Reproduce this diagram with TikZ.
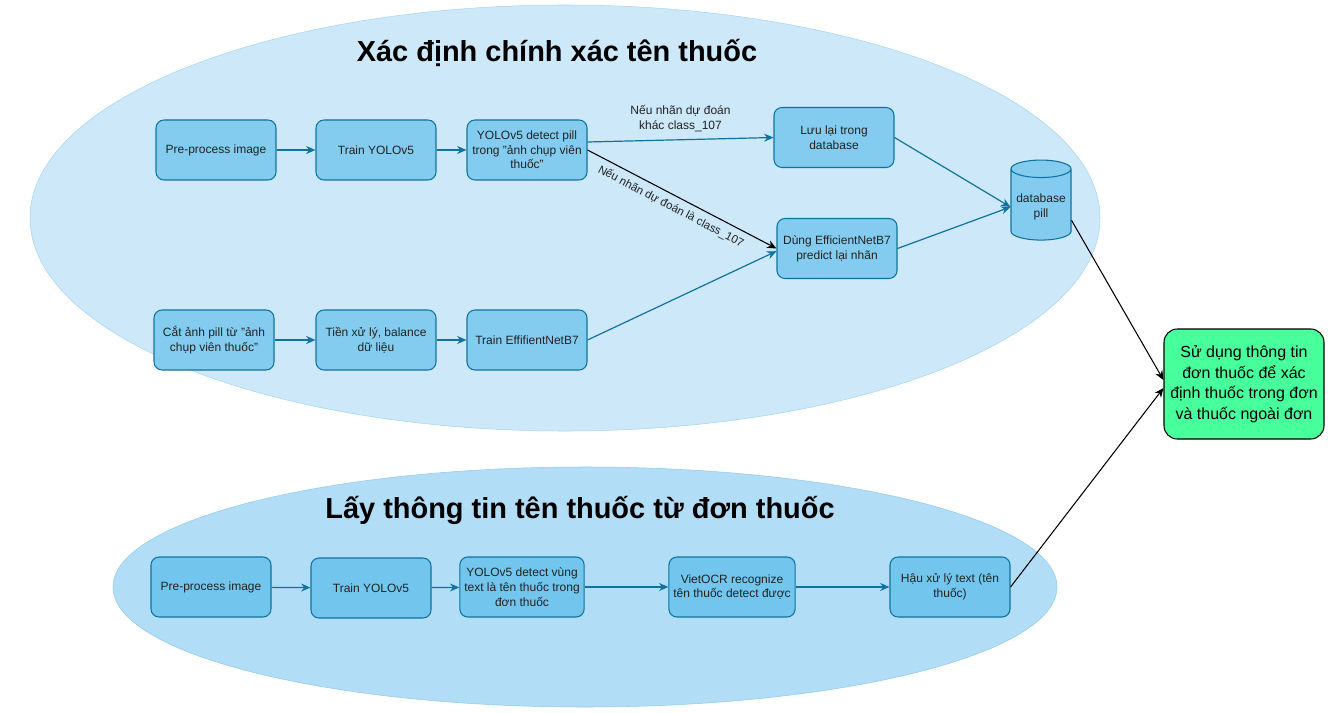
\documentclass[tikz,border=0pt]{standalone}
\usepackage{fontspec}
\setmainfont{Liberation Sans}
\usetikzlibrary{arrows.meta,shapes.geometric}

\definecolor{topcloud}{HTML}{CCE8F9}
\definecolor{topcloudline}{HTML}{A9D5F1}
\definecolor{botcloud}{HTML}{B1DDF6}
\definecolor{botcloudline}{HTML}{8FCBEE}
\definecolor{boxfill}{HTML}{83CCEF}
\definecolor{boxfilltwo}{HTML}{72C6EE}
\definecolor{boxline}{HTML}{10739E}
\definecolor{boxtext}{HTML}{222222}
\definecolor{resultfill}{HTML}{47FF9B}

\tikzset{
  stepbox/.style={draw=boxline, fill=boxfill, rounded corners=6pt, line width=0.8pt,
    minimum width=90pt, minimum height=45pt, align=center, text=boxtext,
    font=\fontsize{9}{11}\selectfont},
  flow/.style={->, draw=boxline, line width=0.9pt},
  blackflow/.style={->, draw=black, line width=0.8pt},
  edgelabel/.style={font=\fontsize{9}{11}\selectfont, text=boxtext, align=center}
}

\begin{document}
\begin{tikzpicture}[x=0.75pt, y=-0.75pt, >={Stealth[length=7pt,width=6pt]}]
    \useasboundingbox (0,0) rectangle (1328,713);

    % the two groups
    \draw[topcloudline, fill=topcloud] (565,218) ellipse (535 and 213);
    \draw[botcloudline, fill=botcloud] (585,587) ellipse (472 and 120);

    \node[font=\fontsize{21.7}{26}\selectfont\bfseries] (titletop) at (557,53) {Xác định chính xác tên thuốc};
    \node[font=\fontsize{21.7}{26}\selectfont\bfseries] (titlebot) at (580,510) {Lấy thông tin tên thuốc từ đơn thuốc};

    % detect pill row
    \node[stepbox] (prepill) at (216,150) {Pre-process image};
    \node[stepbox] (trainyolo) at (376,150) {Train YOLOv5};
    \node[stepbox] (yolopill) at (527,150) {YOLOv5 detect pill\\trong "ảnh chụp viên\\thuốc"};
    \node[stepbox] (luu) at (834,137.5) {Lưu lại trong\\database};
    \node[stepbox] (dung) at (837,248.5) {Dùng EfficientNetB7\\predict lại nhãn};
    \node[draw=boxline, fill=boxfill, line width=0.8pt, cylinder, shape border rotate=90, aspect=0.3,
      minimum width=45pt, minimum height=60pt, align=center, text=boxtext,
      font=\fontsize{9}{11}\selectfont] (dbpill) at (1041,207) {database\\pill};

    % classify row
    \node[stepbox] (cutpill) at (214,340) {Cắt ảnh pill từ "ảnh\\chụp viên thuốc"};
    \node[stepbox] (tienxuly) at (376,340) {Tiền xử lý, balance\\dữ liệu};
    \node[stepbox] (trainnet) at (527,340) {Train EffifientNetB7};

    % prescription row
    \node[stepbox, fill=boxfilltwo] (prepres) at (211,587) {Pre-process image};
    \node[stepbox, fill=boxfilltwo] (trainpres) at (371,588) {Train YOLOv5};
    \node[stepbox, fill=boxfilltwo] (yolotext) at (522,587) {YOLOv5 detect vùng\\text là tên thuốc trong\\đơn thuốc};
    \node[stepbox, fill=boxfilltwo] (vietocr) at (732,587) {VietOCR recognize\\tên thuốc detect được};
    \node[stepbox, fill=boxfilltwo] (hauxuly) at (950,587) {Hậu xử lý text (tên\\thuốc)};

    \node[draw=black, fill=resultfill, rounded corners=10pt, line width=0.8pt, minimum width=120pt,
      minimum height=82.5pt, align=center, font=\fontsize{12}{15.4}\selectfont] (result) at (1244,384)
      {Sử dụng thông tin\\đơn thuốc để xác\\định thuốc trong đơn\\và thuốc ngoài đơn};

    \draw[flow] (prepill) -- (trainyolo);
    \draw[flow] (trainyolo) -- (yolopill);
    \draw[flow] ([yshift=6pt]yolopill.east) -- node[edgelabel, above=2pt] {Nếu nhãn dự đoán\\khác class\_107} (luu.west);
    \draw[blackflow] (yolopill.east) -- node[edgelabel, font=\fontsize{8.6}{10}\selectfont, sloped, below=1pt, pos=0.47] {Nếu nhãn dự đoán là class\_107} (dung.west);
    \draw[flow] (cutpill) -- (tienxuly);
    \draw[flow] (tienxuly) -- (trainnet);
    \draw[flow] (trainnet.east) -- ([yshift=-2pt]dung.west);
    \draw[flow] (luu.east) -- (dbpill.west);
    \draw[flow] (dung.east) -- (dbpill.west);

    \draw[flow] (prepres) -- (trainpres);
    \draw[flow] (trainpres) -- (yolotext);
    \draw[flow] (yolotext) -- (vietocr);
    \draw[flow] (vietocr) -- (hauxuly);

    \draw[blackflow] ([yshift=-10pt]dbpill.east) -- ([yshift=3pt]result.west);
    \draw[blackflow] (hauxuly.east) -- ([yshift=-3pt]result.west);

\end{tikzpicture}
\end{document}
